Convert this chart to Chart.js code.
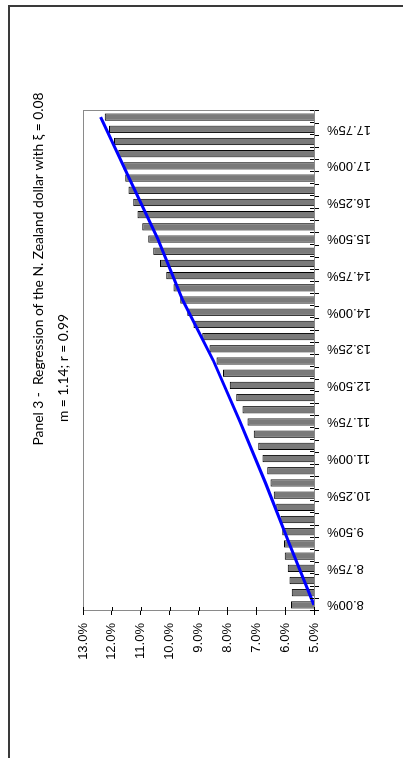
<!DOCTYPE html>
<html>
<head>
<meta charset="utf-8">
<script src="https://cdn.jsdelivr.net/npm/chart.js@4"></script>
<style>
  html, body { margin: 0; padding: 0; background: #fff; overflow: hidden; width: 403px; height: 758px; }
  #frame { position: absolute; left: 8px; top: 5px; width: 430px; height: 790px;
           border-left: 2px solid #3a3a3a; border-top: 2px solid #3a3a3a; }
  /* the chart is laid out landscape and turned a quarter turn counter-clockwise */
  #wrap { position: absolute; left: 0; top: 0; width: 758px; height: 403px;
          transform-origin: 0 0; transform: translate(0, 758px) rotate(-90deg); }
</style>
</head>
<body>
<div id="frame"></div>
<div id="wrap"><canvas id="c" width="758" height="403"></canvas></div>
<script>
// Interest-rate buckets on the category axis
const categories = [
  '8.00%', '8.25%', '8.50%', '8.75%', '9.00%', '9.25%', '9.50%', '9.75%',
  '10.00%', '10.25%', '10.50%', '10.75%', '11.00%', '11.25%', '11.50%', '11.75%',
  '12.00%', '12.25%', '12.50%', '12.75%', '13.00%', '13.25%', '13.50%', '13.75%',
  '14.00%', '14.25%', '14.50%', '14.75%', '15.00%', '15.25%', '15.50%', '15.75%',
  '16.00%', '16.25%', '16.50%', '16.75%', '17.00%', '17.25%', '17.50%', '17.75%',
  '18.00%'
];
// Labelled buckets (every third)
const tickLabels = [
  '8.00%', '8.75%', '9.50%', '10.25%', '11.00%', '11.75%', '12.50%',
  '13.25%', '14.00%', '14.75%', '15.50%', '16.25%', '17.00%', '17.75%'
];
// Observed values (%) per bucket
const barValues = [
  5.80, 5.77, 5.85, 5.91, 6.01, 6.04, 6.10, 6.16, 6.31, 6.39,
  6.51, 6.62, 6.78, 6.93, 7.09, 7.30, 7.48, 7.69, 7.92, 8.15,
  8.38, 8.62, 8.87, 9.17, 9.39, 9.63, 9.87, 10.12, 10.33, 10.57,
  10.74, 10.95, 11.11, 11.26, 11.42, 11.54, 11.61, 11.78, 11.93, 12.10,
  12.25
];
// Fitted regression values (%)
const fitCategories = ['8.00%', '9.25%', '10.50%', '11.75%', '13.00%', '14.25%', '15.50%', '16.75%', '18.00%'];
const fitValues = [5.00, 5.85, 6.68, 7.56, 8.48, 9.55, 10.41, 11.40, 12.39];
// Value axis range
const valueMin = 5;
const valueMax = 13;
const valueStep = 1;

const titleLine = 'Panel 3 -  Regression of the N. Zealand dollar with \u03BE = 0.08';
const subtitleLine = 'm = 1.14; r = 0.99';

const tickFont = { family: '"Liberation Sans", Arial, sans-serif', size: 13 };

// Light frame round the plot area, drawn under the bars
const plotFrame = {
  id: 'plotFrame',
  beforeDatasetsDraw(chart) {
    const { ctx, chartArea: a } = chart;
    ctx.save();
    ctx.strokeStyle = '#8a8a8a';
    ctx.lineWidth = 1;
    ctx.strokeRect(Math.round(a.left) + 0.5, Math.round(a.top) + 0.5,
                   Math.round(a.right - a.left), Math.round(a.bottom - a.top));
    ctx.restore();
  }
};

// Tick marks that cross the axis lines (inner half)
const crossTicks = {
  id: 'crossTicks',
  afterDraw(chart) {
    const { ctx, chartArea: a, scales } = chart;
    ctx.save();
    ctx.strokeStyle = '#000';
    ctx.lineWidth = 1;
    ctx.beginPath();
    const xs = scales.x;
    for (let i = 0; i <= categories.length; i++) {
      const px = Math.round(xs.getPixelForValue(i - 0.5)) + 0.5;
      ctx.moveTo(px, a.bottom - 4);
      ctx.lineTo(px, a.bottom);
    }
    const ys = scales.y;
    for (let v = valueMin; v <= valueMax; v += valueStep) {
      const py = Math.round(ys.getPixelForValue(v)) + 0.5;
      ctx.moveTo(a.left, py);
      ctx.lineTo(a.left + 4, py);
    }
    ctx.stroke();
    ctx.restore();
  }
};

// Two-line heading
const heading = {
  id: 'heading',
  afterDraw(chart) {
    const { ctx } = chart;
    ctx.save();
    ctx.fillStyle = '#000';
    ctx.textAlign = 'center';
    ctx.textBaseline = 'middle';
    ctx.font = '13.8px Lato, "DejaVu Sans", sans-serif';
    ctx.fillText(titleLine, 489, 39);
    ctx.fillText(subtitleLine, 390, 64);
    ctx.restore();
  }
};

new Chart(document.getElementById('c'), {
  data: {
    labels: categories,
    datasets: [
      {
        type: 'line',
        data: fitCategories.map((c, i) => ({ x: c, y: fitValues[i] })),
        borderColor: '#0000ff',
        borderWidth: 3,
        pointRadius: 0,
        tension: 0,
        order: 0
      },
      {
        type: 'bar',
        data: barValues,
        backgroundColor: '#7a7a7a',
        borderColor: '#000',
        borderWidth: 1,
        categoryPercentage: 1,
        barPercentage: 0.6,
        order: 1
      }
    ]
  },
  options: {
    responsive: false,
    animation: false,
    layout: { padding: { top: 83, right: 111, left: 0, bottom: 0 } },
    plugins: { legend: { display: false }, tooltip: { enabled: false } },
    scales: {
      x: {
        type: 'category',
        grid: { drawOnChartArea: false, drawTicks: true, tickLength: 5, color: '#000', offset: true },
        border: { color: '#000', width: 1 },
        ticks: {
          autoSkip: false, minRotation: 90, maxRotation: 90, padding: 8,
          color: '#000', font: tickFont,
          callback: function (val, i) {
            const lbl = categories[i];
            return tickLabels.includes(lbl) ? lbl : '';
          }
        },
        afterFit(scale) { scale.height = 89; }
      },
      y: {
        type: 'linear',
        min: valueMin, max: valueMax,
        grid: { drawOnChartArea: false, drawTicks: true, tickLength: 4, color: '#000' },
        border: { color: '#000', width: 1 },
        ticks: {
          stepSize: valueStep, padding: 8, color: '#000', font: tickFont,
          callback: v => v.toFixed(1) + '%'
        },
        afterFit(scale) { scale.width = 147; }
      }
    }
  },
  plugins: [plotFrame, crossTicks, heading]
});
</script>
</body>
</html>
